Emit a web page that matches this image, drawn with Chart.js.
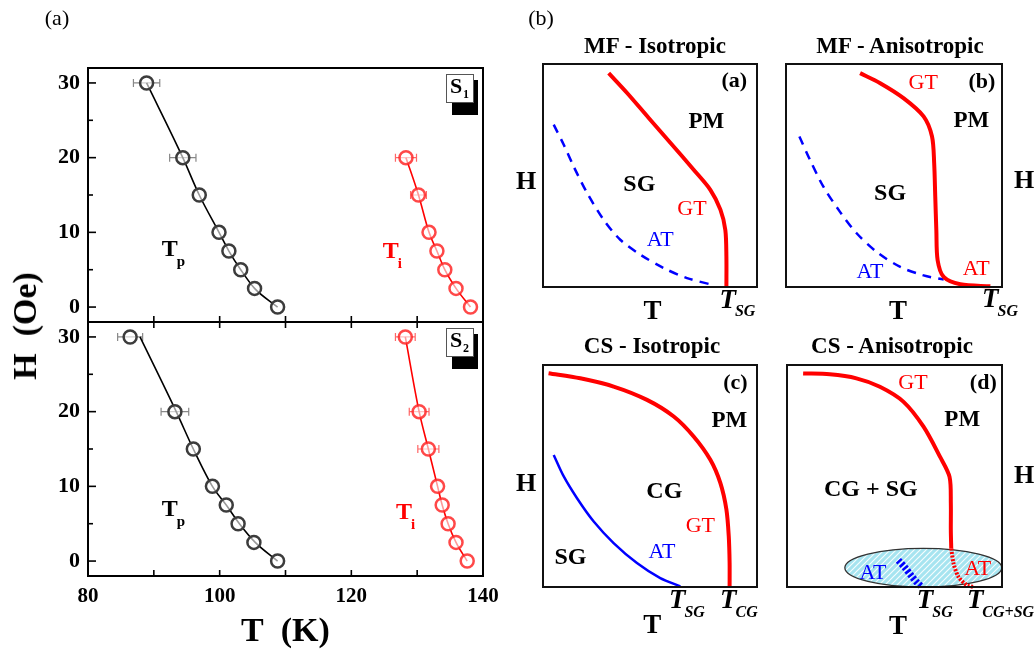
<!DOCTYPE html>
<html>
<head>
<meta charset="utf-8">
<script src="https://cdn.jsdelivr.net/npm/chart.js@4.4.1/dist/chart.umd.min.js"></script>
<style>
  body { margin: 0; background: #fff; }
  #wrap { position: relative; width: 1036px; height: 653px; overflow: hidden;
          font-family: "Liberation Serif", "Times New Roman", serif; color: #000; }
  #wrap canvas { position: absolute; left: 0; top: 0; }
  .lbl { position: absolute; white-space: nowrap; line-height: 1; transform: translate(-50%, -50%); }
  .b { font-weight: bold; }
</style>
</head>
<body>
<div id="wrap">
  <canvas id="s1" width="1036" height="653"></canvas>
  <canvas id="s2" width="1036" height="653"></canvas>
  <canvas id="pa" width="1036" height="653"></canvas>
  <canvas id="pb" width="1036" height="653"></canvas>
  <canvas id="pc" width="1036" height="653"></canvas>
  <canvas id="pd" width="1036" height="653"></canvas>

  <div class="lbl" style="left:57px;top:18px;font-size:22px">(a)</div>
  <div class="lbl" style="left:541px;top:18px;font-size:22px">(b)</div>
  <div class="lbl b" style="left:25px;top:326px;font-size:34px;transform:translate(-50%,-50%) rotate(-90deg)">H&nbsp;&nbsp;(Oe)</div>

  <div class="lbl b" style="left:655px;top:45px;font-size:23px">MF - Isotropic</div>
  <div class="lbl b" style="left:900px;top:45px;font-size:23px">MF - Anisotropic</div>
  <div class="lbl b" style="left:652px;top:345px;font-size:23px">CS - Isotropic</div>
  <div class="lbl b" style="left:892px;top:345px;font-size:23px">CS - Anisotropic</div>

  <div class="lbl b" style="left:526px;top:181px;font-size:26px">H</div>
  <div class="lbl b" style="left:526px;top:483px;font-size:26px">H</div>
  <div class="lbl b" style="left:1024px;top:180px;font-size:26px">H</div>
  <div class="lbl b" style="left:1024px;top:475px;font-size:26px">H</div>
</div>

<script>
// ---- measured transition temperatures (K) vs field (Oe) ----
const H_S1_TP = [30, 20, 15, 10, 7.5, 5, 2.5, 0];
const T_S1_TP = [88.9, 94.4, 96.9, 99.9, 101.4, 103.2, 105.3, 108.8];
const E_S1_TP = [2.0, 2.0, 0, 0, 0, 0, 0, 0];

const H_S1_TI = [20, 15, 10, 7.5, 5, 2.5, 0];
const T_S1_TI = [128.3, 130.2, 131.8, 133.0, 134.2, 135.9, 138.1];
const E_S1_TI = [1.6, 1.2, 0, 0, 0, 0, 0];

const H_S2_TP = [30, 20, 15, 10, 7.5, 5, 2.5, 0];
const T_S2_TP = [86.4, 93.2, 96.0, 98.9, 101.0, 102.8, 105.2, 108.8];
const E_S2_TP = [1.9, 2.1, 0, 0, 0, 0, 0, 0];
const FIT_S2_TP = [87.9, 93.4, 96.0, 98.9, 101.0, 103.0, 105.4, 108.8];

const H_S2_TI = [30, 20, 15, 10, 7.5, 5, 2.5, 0];
const T_S2_TI = [128.2, 130.3, 131.7, 133.1, 133.8, 134.7, 135.9, 137.6];
const E_S2_TI = [1.5, 1.5, 1.6, 0, 0, 0, 0, 0];

const T_TICKS = [80, 100, 120, 140];
const T_INNER_TICKS = [90, 100, 110, 120, 130];
const H_TICKS = [0, 10, 20, 30];
const H_MINOR_TICKS = [5, 15, 25];

// ---- schematic phase lines, both axes in arbitrary units 0..100 ----
const A_GT_T = [30.7, 39.3, 49.4, 59.6, 70.4, 78.2, 82.9, 85.2, 85.7, 85.7];
const A_GT_H = [95.9, 87.0, 75.8, 64.6, 52.6, 43.6, 34.7, 25.6, 13.6, 0];
const A_AT_T = [5.0, 9.7, 14.3, 20.6, 28.3, 36.1, 45.5, 56.4, 67.3, 79.0];
const A_AT_H = [72.8, 63.8, 54.1, 42.2, 30.2, 21.2, 14.5, 8.5, 4.0, 1.0];

const B_GT_T = [34.3, 43.6, 54.4, 63.7, 67.6, 68.6, 69.1, 69.6, 70.2, 73.0, 80.7, 94.6];
const B_GT_H = [95.9, 91.4, 84.7, 76.5, 67.5, 55.5, 40.5, 25.5, 12.0, 4.5, 1.2, 0.3];
const B_AT_T = [6.2, 11.1, 17.3, 25.0, 32.8, 42.0, 52.9, 63.7, 73.0];
const B_AT_H = [67.5, 57.0, 45.0, 33.7, 24.0, 15.7, 9.0, 5.2, 3.3];

const C_GT_T = [2.6, 17.4, 33.0, 48.6, 61.1, 70.4, 78.2, 82.9, 85.7, 86.8, 87.2, 87.2];
const C_GT_H = [96.3, 94.0, 90.3, 84.3, 76.8, 67.8, 57.3, 46.8, 34.9, 22.9, 10.9, 0];
const C_AT_T = [5.0, 9.7, 15.9, 23.7, 33.0, 43.9, 54.8, 64.2];
const C_AT_H = [59.5, 49.8, 40.0, 29.5, 19.8, 10.8, 4.0, 0.3];

const D_GT_T = [7.5, 19.9, 32.3, 43.2, 54.1, 63.5, 71.2, 75.6, 76.2, 76.2, 76.4];
const D_GT_H = [96.2, 95.8, 94.0, 90.2, 83.5, 72.2, 58.6, 49.6, 37.6, 25.6, 17.3];
const D_GT_LOW_T = [76.4, 77.5, 79.8, 83.7, 86.8];
const D_GT_LOW_H = [17.3, 10.5, 4.5, 0.8, 0];
const D_AT_T = [51.8, 54.9, 58.0, 60.7, 62.7];
const D_AT_H = [12.0, 8.7, 4.8, 1.8, 0];
// shaded low-field region: centre and half-axes
const D_ZONE_T = 63.4, D_ZONE_H = 8.7, D_ZONE_RT = 36.5, D_ZONE_RH = 8.7;

const SERIF = '"Liberation Serif", "Times New Roman", serif';
const RED = '#ff0000';
const BLUE = '#0000ff';
const GRAY = '#3c3c3c';
Chart.defaults.font.family = SERIF;
Chart.defaults.color = '#000';

const pts = (xs, ys) => xs.map((x, i) => ({ x, y: ys[i] }));
const f = (w, s, st) => `${st ? st + ' ' : ''}${w} ${s}px ${SERIF}`;

// box + inward ticks for the left panels
function makeFrame(xSides) {
  return {
    id: 'frame',
    afterDraw(chart) {
      const { ctx, chartArea: a, scales: { x, y } } = chart;
      ctx.save();
      ctx.strokeStyle = '#000';
      ctx.lineWidth = 1.6;
      H_TICKS.concat(H_MINOR_TICKS).forEach(v => {
        const py = y.getPixelForValue(v);
        const len = H_TICKS.includes(v) ? 8 : 5;
        ctx.beginPath(); ctx.moveTo(a.left, py); ctx.lineTo(a.left + len, py); ctx.stroke();
      });
      T_INNER_TICKS.forEach(v => {
        const px = x.getPixelForValue(v);
        xSides.forEach(side => {
          const y0 = side === 'top' ? a.top : a.bottom;
          const dir = side === 'top' ? 1 : -1;
          ctx.beginPath(); ctx.moveTo(px, y0); ctx.lineTo(px, y0 + dir * 6); ctx.stroke();
        });
      });
      ctx.lineWidth = 2;
      ctx.strokeRect(a.left, a.top, a.right - a.left, a.bottom - a.top);
      ctx.restore();
    }
  };
}

// horizontal error bars, taken from dataset.xErr
const errorBars = {
  id: 'errorBars',
  beforeDatasetsDraw(chart) {
    const { ctx, scales: { x, y } } = chart;
    chart.data.datasets.forEach(ds => {
      if (!ds.xErr) return;
      ctx.save();
      ctx.strokeStyle = ds.errColor;
      ctx.lineWidth = 1.2;
      ds.data.forEach((p, i) => {
        const e = ds.xErr[i];
        if (!e) return;
        const x1 = x.getPixelForValue(p.x - e), x2 = x.getPixelForValue(p.x + e);
        const py = y.getPixelForValue(p.y);
        ctx.beginPath();
        ctx.moveTo(x1, py); ctx.lineTo(x2, py);
        ctx.moveTo(x1, py - 4); ctx.lineTo(x1, py + 4);
        ctx.moveTo(x2, py - 4); ctx.lineTo(x2, py + 4);
        ctx.stroke();
      });
      ctx.restore();
    });
  }
};

// sample tag in the upper right corner
function makeTag(sub) {
  return {
    id: 'tag',
    afterDraw(chart) {
      const { ctx, chartArea: a } = chart;
      const x0 = a.right - 37, y0 = a.top + 6, w = 27, h = 28;
      ctx.save();
      ctx.fillStyle = '#000';
      ctx.fillRect(x0 + 6, y0 + 6, w - 1, h + 7);
      ctx.fillStyle = '#fff';
      ctx.fillRect(x0, y0, w, h);
      ctx.strokeStyle = '#555';
      ctx.lineWidth = 1;
      ctx.strokeRect(x0 + 0.5, y0 + 0.5, w, h);
      ctx.fillStyle = '#000';
      ctx.textBaseline = 'middle';
      ctx.font = f('bold', 22);
      ctx.fillText('S', x0 + 4, y0 + 13);
      ctx.font = f('bold', 12);
      ctx.fillText(sub, x0 + 17, y0 + 21);
      ctx.restore();
    }
  };
}

// text placed in data units, with an optional subscript
function makeNotes(items) {
  return {
    id: 'notes',
    afterDatasetsDraw(chart) {
      const { ctx, scales: { x, y } } = chart;
      ctx.save();
      ctx.textBaseline = 'middle';
      items.forEach(n => {
        const px = x.getPixelForValue(n.x), py = y.getPixelForValue(n.y);
        ctx.fillStyle = n.color || '#000';
        ctx.font = n.font;
        ctx.textAlign = 'center';
        const w = ctx.measureText(n.text).width;
        ctx.fillText(n.text, px, py);
        if (n.sub) {
          ctx.font = n.subFont;
          ctx.textAlign = 'left';
          ctx.fillText(n.sub, px + w / 2 - 1, py + (n.subDy || 11));
        }
      });
      ctx.restore();
    }
  };
}

function series(T, H, E, fit, color, errColor) {
  return [
    {
      data: pts(T, H), xErr: E, errColor,
      showLine: false, pointRadius: 6.5, pointBorderWidth: 2.5,
      pointBorderColor: color, pointBackgroundColor: 'rgba(255,255,255,0.6)'
    },
    {
      data: pts(fit, H), showLine: true, pointRadius: 0,
      borderColor: color === GRAY ? '#000' : RED, borderWidth: 1.6,
      cubicInterpolationMode: 'monotone'
    }
  ];
}

function leftPanel(id, pad, datasets, notes, tag, withXAxis) {
  new Chart(document.getElementById(id), {
    type: 'scatter',
    data: { datasets },
    options: {
      responsive: false,
      animation: false,
      layout: { padding: pad },
      plugins: { legend: { display: false }, tooltip: { enabled: false } },
      scales: {
        x: {
          type: 'linear', min: 80, max: 140,
          display: withXAxis,
          afterBuildTicks: s => { s.ticks = T_TICKS.map(value => ({ value })); },
          afterFit: s => { s.height = withXAxis ? 77 : 0; },
          grid: { display: false, drawTicks: false },
          border: { display: false },
          ticks: { font: { size: 21, weight: 'bold' }, padding: 8, color: '#000' },
          title: {
            display: true, text: 'T  (K)', color: '#000',
            font: { size: 34, weight: 'bold' }, padding: { top: 0, bottom: 0 }
          }
        },
        y: {
          type: 'linear', min: -2, max: 32,
          afterBuildTicks: s => { s.ticks = H_TICKS.map(value => ({ value })); },
          afterFit: s => { s.width = 88; },
          grid: { display: false, drawTicks: false },
          border: { display: false },
          ticks: { font: { size: 22, weight: 'bold' }, padding: 8, color: '#000' }
        }
      }
    },
    plugins: [errorBars, makeFrame(withXAxis ? ['top', 'bottom'] : ['bottom']), makeTag(tag), makeNotes(notes)]
  });
}

const N22 = f('normal', 22);
const TIT = f('bold', 24), TSUB = f('bold', 15);

leftPanel('s1', { left: 0, top: 68, right: 553, bottom: 331 },
  [...series(T_S1_TP, H_S1_TP, E_S1_TP, T_S1_TP, GRAY, '#888'),
   ...series(T_S1_TI, H_S1_TI, E_S1_TI, T_S1_TI, 'rgba(255,40,40,0.85)', '#f66')],
  [{ x: 92.4, y: 7.6, text: 'T', sub: 'p', font: TIT, subFont: TSUB, subDy: 12 },
   { x: 126.0, y: 7.4, text: 'T', sub: 'i', font: TIT, subFont: TSUB, subDy: 12, color: RED }],
  '1', false);

leftPanel('s2', { left: 0, top: 322, right: 553, bottom: 0 },
  [...series(T_S2_TP, H_S2_TP, E_S2_TP, FIT_S2_TP, GRAY, '#888'),
   ...series(T_S2_TI, H_S2_TI, E_S2_TI, T_S2_TI, 'rgba(255,40,40,0.85)', '#f66')],
  [{ x: 92.4, y: 6.8, text: 'T', sub: 'p', font: TIT, subFont: TSUB, subDy: 12 },
   { x: 128.0, y: 6.4, text: 'T', sub: 'i', font: TIT, subFont: TSUB, subDy: 12, color: RED }],
  '2', true);

// ---- schematic panels ----
const boxFrame = {
  id: 'boxFrame',
  afterDraw(chart) {
    const { ctx, chartArea: a } = chart;
    ctx.save();
    ctx.strokeStyle = '#111';
    ctx.lineWidth = 2;
    ctx.strokeRect(a.left, a.top, a.right - a.left, a.bottom - a.top);
    ctx.restore();
  }
};

function hatch() {
  const c = document.createElement('canvas');
  c.width = 6; c.height = 6;
  const g = c.getContext('2d');
  g.fillStyle = '#a6e4f0';
  g.fillRect(0, 0, 6, 6);
  g.strokeStyle = 'rgba(255,255,255,0.9)';
  g.lineWidth = 1.2;
  g.beginPath();
  g.moveTo(0, 6); g.lineTo(6, 0);
  g.moveTo(-3, 3); g.lineTo(3, -3);
  g.moveTo(3, 9); g.lineTo(9, 3);
  g.stroke();
  return c;
}

const zone = {
  id: 'zone',
  beforeDatasetsDraw(chart) {
    const { ctx, scales: { x, y } } = chart;
    const cx = x.getPixelForValue(D_ZONE_T), cy = y.getPixelForValue(D_ZONE_H);
    const rx = x.getPixelForValue(D_ZONE_T + D_ZONE_RT) - cx;
    const ry = cy - y.getPixelForValue(D_ZONE_H + D_ZONE_RH);
    ctx.save();
    ctx.beginPath();
    ctx.ellipse(cx, cy, rx, ry, 0, 0, Math.PI * 2);
    ctx.fillStyle = ctx.createPattern(hatch(), 'repeat');
    ctx.fill();
    ctx.strokeStyle = '#333';
    ctx.lineWidth = 1.3;
    ctx.stroke();
    ctx.restore();
  }
};

function curve(T, H, color, width, dash) {
  return {
    data: pts(T, H), showLine: true, pointRadius: 0,
    borderColor: color, borderWidth: width, borderDash: dash || [],
    tension: 0.3, clip: false, borderCapStyle: 'butt'
  };
}

function schematic(id, pad, datasets, notes, extra) {
  new Chart(document.getElementById(id), {
    type: 'scatter',
    data: { datasets },
    options: {
      responsive: false,
      animation: false,
      layout: { padding: pad },
      plugins: { legend: { display: false }, tooltip: { enabled: false } },
      scales: {
        x: { type: 'linear', min: 0, max: 100, display: false },
        y: { type: 'linear', min: 0, max: 100, display: false }
      }
    },
    plugins: (extra || []).concat([boxFrame, makeNotes(notes)])
  });
}

const BOLD = f('bold', 23), BIG = f('bold', 24), TAG = f('bold', 22);
const AXT = f('bold', 27), TI = f('bold', 27, 'italic'), TS = f('bold', 16, 'italic');

schematic('pa', { left: 543, top: 64, right: 279, bottom: 366 },
  [curve(A_GT_T, A_GT_H, RED, 4), curve(A_AT_T, A_AT_H, BLUE, 2.5, [9, 7])],
  [{ x: 89.4, y: 92.1, text: '(a)', font: TAG },
   { x: 76.3, y: 74.1, text: 'PM', font: BOLD },
   { x: 45.0, y: 45.9, text: 'SG', font: BIG },
   { x: 69.6, y: 34.7, text: 'GT', font: N22, color: RED },
   { x: 54.8, y: 21.2, text: 'AT', font: N22, color: BLUE },
   { x: 51.2, y: -11.1, text: 'T', font: AXT },
   { x: 86.3, y: -6.1, text: 'T', sub: 'SG', font: TI, subFont: TS }]);

schematic('pb', { left: 786, top: 64, right: 34, bottom: 366 },
  [curve(B_GT_T, B_GT_H, RED, 4), curve(B_AT_T, B_AT_H, BLUE, 2.5, [9, 7])],
  [{ x: 63.5, y: 91.6, text: 'GT', font: N22, color: RED },
   { x: 90.7, y: 92.0, text: '(b)', font: TAG },
   { x: 85.8, y: 74.2, text: 'PM', font: BOLD },
   { x: 48.2, y: 42.0, text: 'SG', font: BIG },
   { x: 38.9, y: 6.7, text: 'AT', font: N22, color: BLUE },
   { x: 88.1, y: 7.8, text: 'AT', font: N22, color: RED },
   { x: 51.9, y: -11.2, text: 'T', font: AXT },
   { x: 94.6, y: -6.0, text: 'T', sub: 'SG', font: TI, subFont: TS }]);

schematic('pc', { left: 543, top: 365, right: 279, bottom: 66 },
  [curve(C_GT_T, C_GT_H, RED, 4), curve(C_AT_T, C_AT_H, BLUE, 2.5)],
  [{ x: 89.9, y: 91.8, text: '(c)', font: TAG },
   { x: 87.1, y: 74.9, text: 'PM', font: BOLD },
   { x: 56.7, y: 43.0, text: 'CG', font: BIG },
   { x: 73.5, y: 27.3, text: 'GT', font: N22, color: RED },
   { x: 55.6, y: 15.6, text: 'AT', font: N22, color: BLUE },
   { x: 12.8, y: 13.0, text: 'SG', font: BIG },
   { x: 62.7, y: -6.5, text: 'T', sub: 'SG', font: TI, subFont: TS },
   { x: 86.6, y: -6.5, text: 'T', sub: 'CG', font: TI, subFont: TS },
   { x: 51.1, y: -17.7, text: 'T', font: AXT }]);

schematic('pd', { left: 787, top: 365, right: 34, bottom: 66 },
  [curve(D_GT_T, D_GT_H, RED, 4),
   curve(D_GT_LOW_T, D_GT_LOW_H, RED, 4, [2, 1.5]),
   curve(D_AT_T, D_AT_H, BLUE, 7, [2.5, 2])],
  [{ x: 58.6, y: 91.8, text: 'GT', font: N22, color: RED },
   { x: 91.3, y: 91.8, text: '(d)', font: TAG },
   { x: 81.5, y: 75.2, text: 'PM', font: BOLD },
   { x: 39.0, y: 43.6, text: 'CG + SG', font: BIG },
   { x: 40.0, y: 6.0, text: 'AT', font: N22, color: BLUE },
   { x: 88.7, y: 7.8, text: 'AT', font: N22, color: RED },
   { x: 64.2, y: -6.5, text: 'T', sub: 'SG', font: TI, subFont: TS },
   { x: 87.5, y: -6.5, text: 'T', sub: 'CG+SG', font: TI, subFont: TS },
   { x: 51.6, y: -18.1, text: 'T', font: AXT }],
  [zone]);
</script>
</body>
</html>
